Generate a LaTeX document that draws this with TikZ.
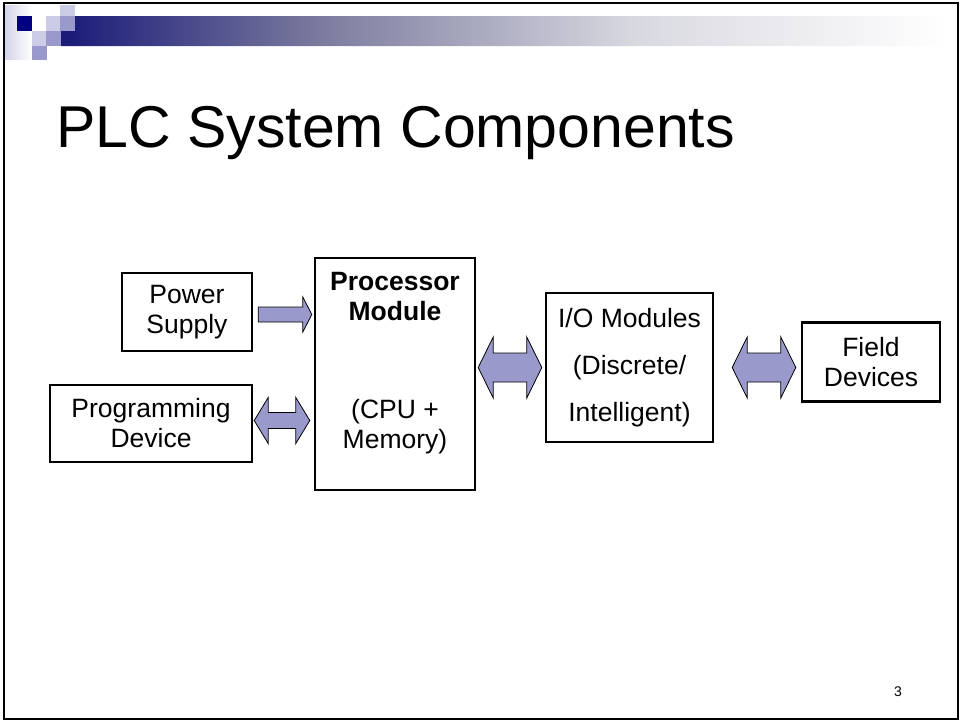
\documentclass[tikz,border=0pt]{standalone}
\usepackage{fontspec}
\setmainfont{Liberation Sans}
\usetikzlibrary{calc}

\definecolor{navy}{RGB}{0,0,128}
\definecolor{lav}{RGB}{204,204,230}
\definecolor{midlav}{RGB}{153,153,204}
\definecolor{arrowfill}{RGB}{153,153,204}

% the middle 50bp of the shading covers the path
\pgfdeclarehorizontalshading{headerbar}{100bp}{%
  rgb(0bp)=(0.10,0.10,0.47);
  rgb(25bp)=(0.10,0.10,0.47);
  rgb(39.5bp)=(0.48,0.48,0.62);
  rgb(57.5bp)=(0.85,0.85,0.88);
  rgb(75bp)=(1,1,1);
  rgb(100bp)=(1,1,1)}

% double-headed block arrow between two points on one horizontal line
% #1 left tip, #2 right tip, #3 shaft half-width, #4 head half-width, #5 head length
\newcommand\blockdouble[5]{%
  \draw[blockarrow] let \p1=#1, \p2=#2 in
    (\x1,\y1) -- (\x1+#5,\y1+#4) -- (\x1+#5,\y1+#3) -- (\x2-#5,\y1+#3)
    -- (\x2-#5,\y1+#4) -- (\x2,\y1) -- (\x2-#5,\y1-#4) -- (\x2-#5,\y1-#3)
    -- (\x1+#5,\y1-#3) -- (\x1+#5,\y1-#4) -- cycle;}
% single-headed block arrow pointing right
\newcommand\blocksingle[5]{%
  \draw[blockarrow] let \p1=#1, \p2=#2 in
    (\x1,\y1+#3) -- (\x2-#5,\y1+#3) -- (\x2-#5,\y1+#4) -- (\x2,\y1)
    -- (\x2-#5,\y1-#4) -- (\x2-#5,\y1-#3) -- (\x1,\y1-#3) -- cycle;}

\tikzset{
  box/.style={draw=black, line width=2.4pt, fill=white, inner sep=0pt},
  boxtext/.style={font=\fontsize{26.5}{30}\selectfont, align=center, inner sep=0pt},
  blockarrow/.style={draw=black, line width=0.8pt, fill=arrowfill, line join=miter},
}

\begin{document}
\begin{tikzpicture}[x=1pt, y=-1pt]
  \useasboundingbox (0,0) rectangle (960,721);
  \fill[white] (0,0) rectangle (960,721);

  % header decoration
  \shade[left color=lav!90!navy!60, right color=white] (5,5) rectangle (32,59);
  \shade[shading=headerbar] (75,16) -- (948,16) -- (948,46) -- (61,46) -- (61,31) -- (75,31) -- cycle;
  \fill[lav] (60,5) rectangle (75,16);
  \fill[navy] (17,16) rectangle (32,31);
  \fill[lav] (46,16) rectangle (60,31);
  \fill[midlav] (60,16) rectangle (75,31);
  \fill[lav] (32,31) rectangle (46,46);
  \fill[midlav] (46,31) rectangle (61,46);
  \fill[midlav] (32,46) rectangle (47,60);

  % slide frame
  \draw[line width=2.5pt] (4,3) rectangle (958,719);

  % title
  \node[anchor=base west, inner sep=0pt, font=\fontsize{59}{66}\selectfont] (title) at (56,147) {PLC System Components};

  % component boxes
  \node[box, minimum width=130pt, minimum height=78pt] (ps) at (187,312) {};
  \node[boxtext] (pstext) at (ps.center) {Power\\Supply};

  \node[box, minimum width=202pt, minimum height=77pt] (pd) at (151,423.5) {};
  \node[boxtext] (pdtext) at (pd.center) {Programming\\Device};

  \node[box, minimum width=160pt, minimum height=232pt] (proc) at (395,374) {};
  \node[boxtext] (proctop) at (395,297) {\bfseries Processor\\\bfseries Module};
  \node[boxtext] (procbot) at (395,427) {(CPU +\\Memory)};

  \node[box, minimum width=167pt, minimum height=149pt] (io) at (629.5,367.5) {};
  \node[boxtext, font=\fontsize{26.5}{47}\selectfont] (iotext) at (io.center) {I/O Modules\\(Discrete/\\Intelligent)};

  \node[box, minimum width=138pt, minimum height=79pt] (fd) at (871,362) {};
  \node[boxtext] (fdtext) at (fd.center) {Field\\Devices};

  % connectors
  \coordinate (psA) at ($(ps.east)+(5,2.5)$);
  \coordinate (psB) at ($(proc.west |- psA)+(-2,0)$);
  \blocksingle{(psA)}{(psB)}{7.5pt}{17.5pt}{9pt}

  \coordinate (pdA) at ($(pd.east)+(1,-3)$);
  \coordinate (pdB) at ($(proc.west |- pdA)+(-4,0)$);
  \blockdouble{(pdA)}{(pdB)}{8pt}{23pt}{14pt}

  \coordinate (ioA) at ($(proc.east |- io.west)+(2,0)$);
  \coordinate (ioB) at ($(io.west)+(-3,0)$);
  \blockdouble{(ioA)}{(ioB)}{14.5pt}{30.5pt}{15pt}

  \coordinate (fdA) at ($(io.east)+(18,0)$);
  \coordinate (fdB) at ($(fd.west |- fdA)+(-5,0)$);
  \blockdouble{(fdA)}{(fdB)}{14.5pt}{30.5pt}{15pt}

  % slide number
  \node[font=\fontsize{14}{16}\selectfont, inner sep=0pt] (pagenum) at (898,692) {3};
\end{tikzpicture}
\end{document}
